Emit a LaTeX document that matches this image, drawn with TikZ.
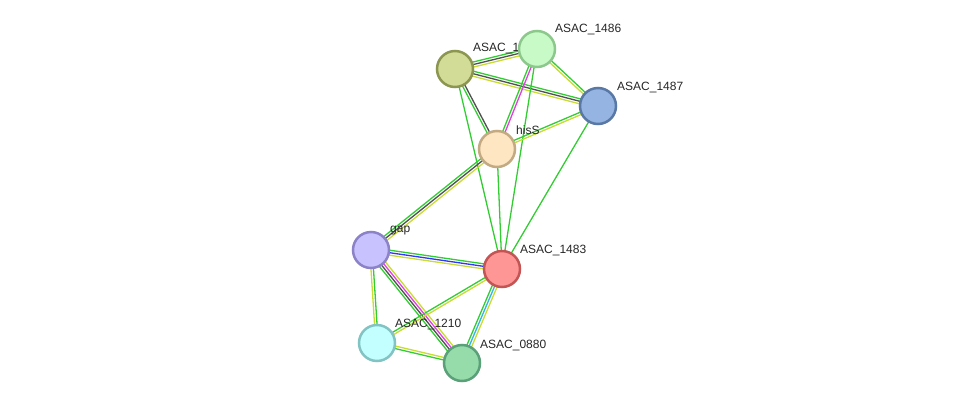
\documentclass[tikz,border=0pt]{standalone}
\usepackage{fontspec}
\setmainfont{Liberation Sans}
\usetikzlibrary{calc}
\pgfdeclarelayer{bg}
\pgfsetlayers{bg,main}
\definecolor{cgreen}{HTML}{33CC33}
\definecolor{cyel}{HTML}{C8DC32}
\definecolor{cdark}{HTML}{505050}
\definecolor{cmag}{HTML}{E040E0}
\definecolor{cblue}{HTML}{3333FF}
\definecolor{ccyan}{HTML}{33B5E5}
\tikzset{
  prot/.style={circle,minimum size=36pt,inner sep=0pt,line width=2.5pt},
  lab/.style={anchor=west,inner sep=0pt,font=\fontsize{12pt}{12pt}\selectfont,text=black!85},
  edge/.style={line width=1.3pt},
}
\newcommand\sedge[3]{\foreach \c/\o in {#3}{\draw[edge,\c] ($(#1)!\o!90:(#2)$) -- ($(#2)!\o!-90:(#1)$);}}
\begin{document}
\begin{tikzpicture}[x=1pt,y=-1pt]
\useasboundingbox (0,0) rectangle (975,410);
% labels
\node[lab] (l85) at (473,49) {ASAC\_1};
\node[lab] (l86) at (555,30) {ASAC\_1486};
\node[lab] (l87) at (617,87) {ASAC\_1487};
\node[lab] (lhis) at (516,130) {hisS};
\node[lab] (lgap) at (390,231) {gap};
\node[lab] (l83) at (520,250) {ASAC\_1483};
\node[lab] (l10) at (395,324) {ASAC\_1210};
\node[lab] (l80) at (480,345) {ASAC\_0880};
% nodes
\node[prot,fill={rgb,255:red,210;green,220;blue,150},draw={rgb,255:red,140;green,150;blue,80}] (n85) at (455,69) {};
\node[prot,fill={rgb,255:red,200;green,250;blue,200},draw={rgb,255:red,140;green,200;blue,140}] (n86) at (537,49) {};
\node[prot,fill={rgb,255:red,150;green,180;blue,225},draw={rgb,255:red,90;green,120;blue,165}] (n87) at (598,106) {};
\node[prot,fill={rgb,255:red,255;green,230;blue,195},draw={rgb,255:red,195;green,170;blue,130}] (his) at (497,149) {};
\node[prot,fill={rgb,255:red,200;green,195;blue,255},draw={rgb,255:red,140;green,130;blue,200}] (gap) at (371,250) {};
\node[prot,fill={rgb,255:red,255;green,150;blue,150},draw={rgb,255:red,195;green,85;blue,85}] (n83) at (502,269) {};
\node[prot,fill={rgb,255:red,195;green,255;blue,255},draw={rgb,255:red,130;green,195;blue,195}] (n10) at (377,343) {};
\node[prot,fill={rgb,255:red,150;green,220;blue,170},draw={rgb,255:red,90;green,160;blue,120}] (n80) at (462,363) {};
% edges
\begin{pgfonlayer}{bg}
\sedge{n85}{n86}{cgreen/2.5pt,cdark/0pt,cyel/-2.5pt}
\sedge{n85}{n87}{cgreen/2.5pt,cdark/0pt,cyel/-2.5pt}
\sedge{n85}{his}{cgreen/-1.25pt,cdark/1.25pt}
\sedge{n85}{n83}{cgreen/0pt}
\sedge{n86}{n87}{cgreen/1.25pt,cyel/-1.25pt}
\sedge{n86}{his}{cgreen/-1.25pt,cmag/1.25pt}
\sedge{n86}{n83}{cgreen/0pt}
\sedge{n87}{his}{cgreen/-1.25pt,cyel/1.25pt}
\sedge{n87}{n83}{cgreen/0pt}
\sedge{his}{n83}{cgreen/0pt}
\sedge{his}{gap}{cgreen/-2.5pt,cdark/0pt,cyel/2.5pt}
\sedge{gap}{n83}{cgreen/2.5pt,cblue/0pt,cyel/-2.5pt}
\sedge{gap}{n80}{cgreen/-3.75pt,cdark/-1.25pt,cmag/1.25pt,cyel/3.75pt}
\sedge{gap}{n10}{cgreen/1.25pt,cyel/-1.25pt}
\sedge{n83}{n10}{cgreen/-1.25pt,cyel/1.25pt}
\sedge{n83}{n80}{cgreen/-2.5pt,ccyan/0pt,cyel/2.5pt}
\sedge{n10}{n80}{cgreen/-1.25pt,cyel/1.25pt}
\end{pgfonlayer}
\end{tikzpicture}
\end{document}
